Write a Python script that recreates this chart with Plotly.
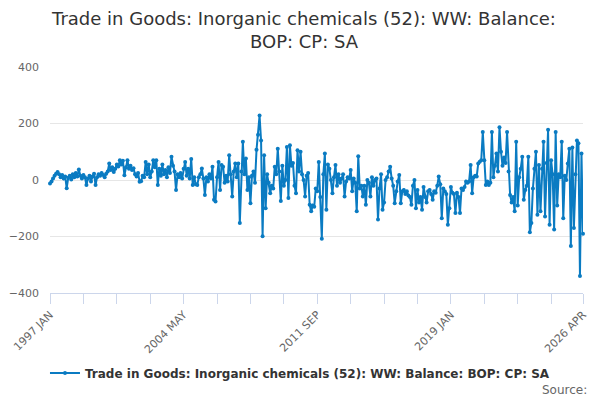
import plotly.graph_objects as go

# monthly series, 1997 JAN .. 2026 APR (352 months), GBP million
month_names = ['JAN', 'FEB', 'MAR', 'APR', 'MAY', 'JUN',
               'JUL', 'AUG', 'SEP', 'OCT', 'NOV', 'DEC']
periods = [f'{1997 + m // 12} {month_names[m % 12]}' for m in range(352)]

balance = [
    -12, -5, 5, 15, 22, 28, 20, 10, 18, 5,
    12, -29, 8, 15, 2, 20, 10, 25, 12, 37,
    15, 5, 18, 10, -18, 5, 15, -5, 12, 22,
    -18, 10, 20, 15, 25, 18, 10, 22, 30, 58,
    35, 45, 28, 40, 55, 48, 70, 55, 68, 17,
    45, 70, 40, 50, 35, 42, 20, 12, 25, -6,
    -4, 15, 10, 64, 20, 55, 10, 30, 70, 45,
    70, -18, 40, 15, 55, 20, 35, 10, 45, 25,
    82, 50, 30, -35, 20, 10, 25, 5, 40, 64,
    15, 40, 5, 74, -18, 10, -15, -18, 10, 20,
    41, 5, -53, 10, -5, 20, 5, 47, -70, -76,
    10, 64, -35, 53, 47, -10, 15, -5, 88, 20,
    -58, 30, 58, 10, 58, -152, 30, 135, 20, 76,
    -35, 10, -82, 15, 30, -10, 107, 160, 228, 140,
    -199, 88, -100, 20, -10, -47, -20, -30, 47, 20,
    111, 30, -74, 50, -20, 0, 117, -64, 123, 50,
    60, -20, -47, 105, 30, 100, 20, 0, -58, 15,
    25, -88, -111, -90, -95, -30, -40, 64, -60, -208,
    20, 94, -105, 55, 40, 0, -47, 10, 53, -20,
    20, -10, 5, 20, -58, -5, 10, 5, 35, -40,
    5, -10, -111, 84, -30, -20, -58, -20, -88, 0,
    -10, -58, 10, -20, 0, 5, -140, -30, 20, -105,
    -80, 0, 10, 30, 47, 5, -20, -82, -40, -5,
    18, -82, -40, -35, -50, -40, -55, -60, -88, -20,
    0, -100, -35, -80, -60, -105, -25, -60, -80, -40,
    -35, -50, -70, -40, -45, -20, 12, -15, -135, -30,
    -40, -50, -158, -100, -25, -45, -50, -117, -45, -60,
    -117, -30, -35, -25, -5, -10, -5, 53, -47, 10,
    15, 12, 58, 65, 70, 170, 70, -18, -5, -18,
    -10, 170, 10, 50, 94, 30, 187, 100, 50, 80,
    60, 170, 30, -53, -80, -60, -111, 135, -90, 10,
    40, 82, -70, -35, -20, 82, -185, -152, -30, 40,
    100, -123, 53, -111, 40, 135, -129, 60, 178, -158,
    70, 20, -175, 170, -90, 20, 10, 135, -135, 15,
    0, 58, 111, -234, 115, -170, 20, 140, 130, -340,
    94, -190,
]

series_name = 'Trade in Goods: Inorganic chemicals (52): WW: Balance: BOP: CP: SA'
label_idx = [0, 88, 176, 264, 351]

fig = go.Figure()
fig.add_trace(go.Scatter(
    x=list(range(len(balance))),
    y=balance,
    mode='lines+markers',
    name=series_name,
    line=dict(color='#0a7bc2', width=2),
    marker=dict(color='#0a7bc2', size=4),
    text=periods,
    hovertemplate='%{text}: %{y}<extra></extra>',
    cliponaxis=False,
))

# page body adds an 8px margin, so the figure is a bit smaller than the window
fig.update_layout(
    width=592, height=392,
    paper_bgcolor='white', plot_bgcolor='white',
    margin=dict(l=42, r=17, t=59, b=107, autoexpand=False),
    font=dict(family='DejaVu Sans', color='#333333'),
    title=dict(
        text='Trade in Goods: Inorganic chemicals (52): WW: Balance:<br>BOP: CP: SA',
        x=0.5, xanchor='center', xref='container', y=0.957, yanchor='middle',
        font=dict(size=18, color='#333333'),
    ),
    showlegend=True,
    legend=dict(
        orientation='h', x=0.469, xanchor='center', y=-0.354, yanchor='middle',
        font=dict(size=12, color='#333333', weight='bold'),
    ),
    xaxis=dict(
        range=[0, 351],
        automargin=False,
        tickvals=label_idx,
        ticktext=[periods[i] for i in label_idx],
        tickangle=-45,
        tickfont=dict(size=11, color='#666666'),
        showgrid=False, zeroline=False,
        showline=True, linecolor='#ccd6eb', linewidth=1,
        ticks='outside', ticklen=10, tickcolor='#ccd6eb',
        minor=dict(tickvals=list(range(0, 352, 22)), ticks='outside',
                   ticklen=10, tickcolor='#ccd6eb', showgrid=False),
    ),
    yaxis=dict(
        range=[-400, 400],
        automargin=False,
        tickvals=[-400, -200, 0, 200, 400],
        tickfont=dict(size=11, color='#666666'),
        ticklabelstandoff=10,
        showgrid=True, gridcolor='#e6e6e6', zeroline=False,
        showline=False,
    ),
    annotations=[dict(
        text='Source:', xref='paper', yref='paper', x=1.011, y=-0.43,
        xanchor='right', yanchor='middle', showarrow=False,
        font=dict(size=12, color='#666666'),
    )],
)

fig.write_html('out.html')
